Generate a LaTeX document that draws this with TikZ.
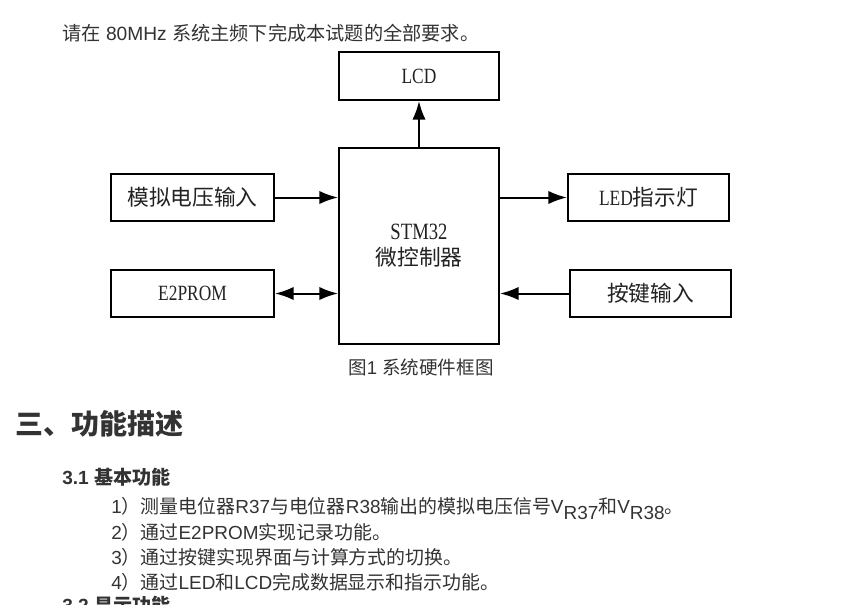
\documentclass[tikz,border=0pt]{standalone}
\usepackage{fontspec}
\setmainfont{Liberation Sans}
\newfontfamily\cjk{Noto Sans CJK SC}
\newfontfamily\boxlat[FakeStretch=0.8]{Liberation Serif}
\usetikzlibrary{arrows.meta}
\definecolor{txt}{HTML}{333333}
\definecolor{boxtext}{HTML}{222222}
\newcommand{\myzh}[1]{{\cjk #1}}
\begin{document}
\begin{tikzpicture}[x=0.75pt,y=-0.75pt,
  blk/.style={draw=black, line width=1.5pt, inner sep=0pt, text=boxtext,
    font=\fontsize{16.3pt}{20pt}\selectfont, align=center},
  conn/.style={line width=1.5pt, -{Latex[length=14pt,width=10pt]}},
  dconn/.style={line width=1.5pt, {Latex[length=14pt,width=10pt]}-{Latex[length=14pt,width=10pt]}},
  line/.style={anchor=base west, inner sep=0pt, text=txt, font=\fontsize{14.2pt}{16pt}\selectfont},
  headline/.style={anchor=base west, inner sep=0pt, text=txt, font=\fontsize{21pt}{24pt}\selectfont\bfseries},
  subhead/.style={anchor=base west, inner sep=0pt, text=txt, font=\fontsize{14.3pt}{16pt}\selectfont\bfseries}]
\useasboundingbox (0,0) rectangle (850,604);
\fill[white] (0,0) rectangle (850,604);

% top line
\node[line, font=\fontsize{14.4pt}{16pt}\selectfont] (top) at (62,40) {\myzh{请在} 80MHz \myzh{系统主频下完成本试题的全部要求。}};

% blocks
\node[blk, minimum width=120pt, minimum height=36pt] (lcd) at (419,76) {\boxlat LCD};
\node[blk, minimum width=120pt, minimum height=147pt] (stm) at (419,245.5)
  {{\boxlat\fontsize{17.5pt}{20pt}\selectfont STM32}\\\myzh{微控制器}};
\node[blk, minimum width=122.25pt, minimum height=35.25pt] (ana) at (192.5,197.5) {\myzh{模拟电压输入}};
\node[blk, minimum width=122.25pt, minimum height=35.25pt] (e2) at (192.5,293.5) {\boxlat E2PROM};
\node[blk, minimum width=120.75pt, minimum height=35.25pt] (led) at (648.5,197.5) {{\boxlat LED}\myzh{指示灯}};
\node[blk, minimum width=120.75pt, minimum height=35.25pt] (key) at (650.5,293.5) {\myzh{按键输入}};

% connectors
\draw[conn] (stm.north) -- (lcd.south);
\draw[conn] (ana.east) -- (ana.east -| stm.west);
\draw[dconn] (e2.east) -- (e2.east -| stm.west);
\draw[conn] (stm.east |- led.west) -- (led.west);
\draw[conn] (key.west) -- (key.west -| stm.east);

% caption
\node[text=txt, inner sep=0pt, font=\fontsize{13.9pt}{16pt}\selectfont] (cap) at (421,367)
  {\myzh{图}1 \myzh{系统硬件框图}};

% section heading
\node[headline] (h3) at (15,434) {\myzh{三、功能描述}};
\node[subhead] (s31) at (62,484) {3.1 \myzh{基本功能}};

\node[line] (i1) at (111,513) {1\myzh{）测量电位器}R37\myzh{与电位器}R38\myzh{输出的模拟电压信号}V\raisebox{-0.35em}{R37}\myzh{和}V\raisebox{-0.35em}{R38}\myzh{。}};
\node[line] (i2) at (111,539) {2\myzh{）通过}E2PROM\myzh{实现记录功能。}};
\node[line] (i3) at (111,564) {3\myzh{）通过按键实现界面与计算方式的切换。}};
\node[line] (i4) at (111,589) {4\myzh{）通过}LED\myzh{和}LCD\myzh{完成数据显示和指示功能。}};
\node[subhead] (s32) at (62,612) {3.2 \myzh{显示功能}};
\end{tikzpicture}
\end{document}
